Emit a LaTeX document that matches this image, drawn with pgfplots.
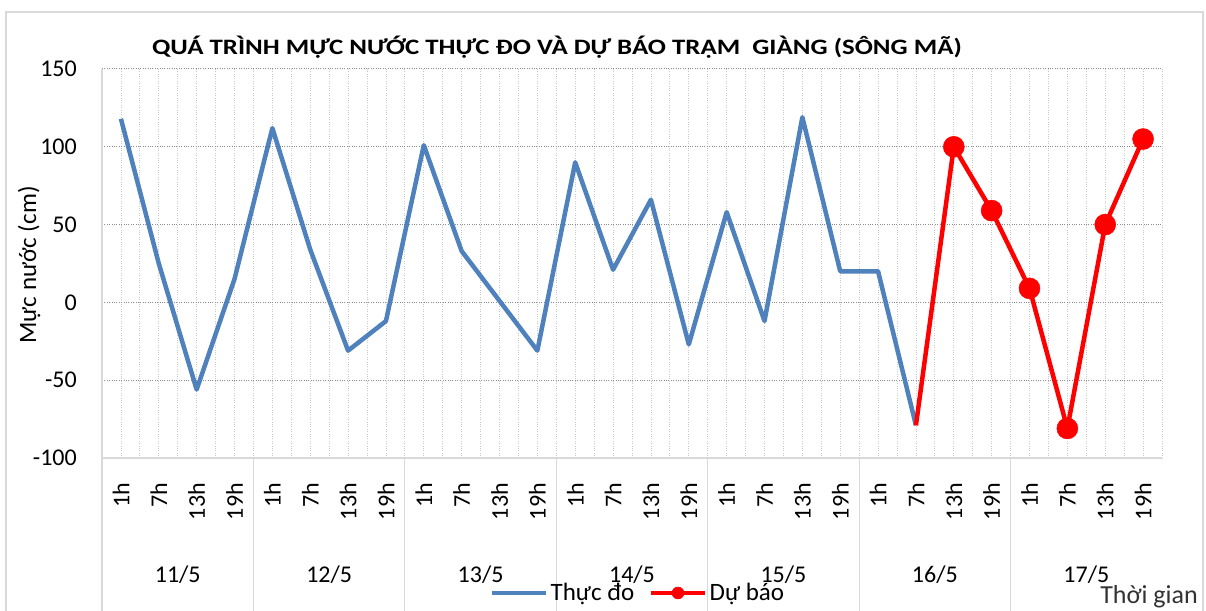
\documentclass[border=0pt]{standalone}
\usepackage{pgfplots}
\pgfplotsset{compat=1.18}
\usepackage{fontspec}
\setmainfont{Carlito}
\newfontfamily\titlefont[FakeStretch=1.22]{Carlito}
\definecolor{blueS}{HTML}{4F81BD}
\definecolor{redS}{HTML}{FF0000}
\definecolor{gridH}{HTML}{8C8C8C}
\definecolor{gridV}{HTML}{C8C8C8}
\definecolor{frameC}{HTML}{D9D9D9}
\newcommand{\fs}{\fontsize{24}{28}\selectfont}
\newcommand{\fl}{\fontsize{25}{29}\selectfont}
\begin{document}
\begin{tikzpicture}[x=1pt,y=1pt]
\useasboundingbox (0,0) rectangle (1206,610);
\fill[white] (0,0) rectangle (1206,610);
\draw[frameC, line width=1.5pt] (6,-10) rectangle (1203,598);
\node[font=\titlefont\bfseries\fontsize{22}{26}\selectfont] at (557,563) {QUÁ TRÌNH MỰC NƯỚC THỰC ĐO VÀ DỰ BÁO TRẠM \ GIÀNG (SÔNG MÃ)};
\node[font=\fl, rotate=90] at (29,345) {Mực nước (cm)};
\node[font=\fontsize{26}{30}\selectfont, text=black!80] at (1149,13) {Thời gian};
\begin{axis}[
  at={(102pt,152pt)}, anchor=south west, scale only axis,
  width=1060pt, height=389pt,
  xmin=-0.5, xmax=27.5, ymin=-100, ymax=150,
  ytick={-100,-50,...,150},
  /pgf/number format/assume math mode=true,
  xtick={0,...,27},
  xticklabels={1h,7h,13h,19h,1h,7h,13h,19h,1h,7h,13h,19h,1h,7h,13h,19h,1h,7h,13h,19h,1h,7h,13h,19h,1h,7h,13h,19h},
  minor xtick={-0.5,0.5,...,27.5},
  xmajorgrids, xminorgrids, ymajorgrids,
  major x grid style={draw=gridV, dotted, line width=0.8pt},
  minor x grid style={draw=gridV, dotted, line width=0.8pt},
  major y grid style={draw=gridH, dotted, line width=1pt},
  axis line style={draw=none},
  major tick length=0pt, minor tick length=0pt,
  tick style={draw=none},
  yticklabel style={font=\fs, inner sep=0pt, anchor=east, xshift=-25pt},
  xticklabel style={font=\fs, inner sep=0pt, rotate=90, anchor=east, xshift=-25pt},
  clip=false,
  legend columns=2,
  legend style={at={(0.366,-0.347)}, anchor=west, draw=none, fill=none, font=\fl,
    inner sep=0pt,
    nodes={inner sep=3pt},
    /tikz/every even column/.append style={column sep=12pt}},
  legend image code/.code={\draw[mark repeat=2,mark phase=2,#1,mark size=6pt,line width=3.5pt] plot coordinates {(0pt,0pt) (27pt,0pt) (54pt,0pt)};},
]
\addplot[blueS, line width=4.5pt, line join=round] coordinates {
(0,118) (1,25) (2,-56) (3,15) (4,112) (5,34) (6,-31) (7,-12)
(8,101) (9,33) (10,1) (11,-31) (12,90) (13,21) (14,66) (15,-27)
(16,58) (17,-12) (18,119) (19,20) (20,20) (21,-79)};
\addlegendentry{Thực đo}
\addplot[redS, line width=4.5pt, line join=round, forget plot] coordinates {
(21,-79) (22,100)};
\addplot[redS, line width=4.5pt, line join=round, mark=*, mark size=10.5pt,
  mark options={solid, fill=redS, draw=redS, line width=0.5pt}] coordinates {
(22,100) (23,59) (24,9) (25,-81) (26,50) (27,105)};
\addlegendentry{Dự báo}
\draw[frameC, line width=1.2pt] (axis cs:-0.5,150) -- (axis cs:-0.5,-100) -- (axis cs:27.5,-100);
\draw[frameC, line width=1.2pt] (axis cs:-0.5,-100) -- ++(0pt,-160pt);
\draw[frameC, line width=1.2pt] (axis cs:3.5,-100) -- ++(0pt,-160pt);
\draw[frameC, line width=1.2pt] (axis cs:7.5,-100) -- ++(0pt,-160pt);
\draw[frameC, line width=1.2pt] (axis cs:11.5,-100) -- ++(0pt,-160pt);
\draw[frameC, line width=1.2pt] (axis cs:15.5,-100) -- ++(0pt,-160pt);
\draw[frameC, line width=1.2pt] (axis cs:19.5,-100) -- ++(0pt,-160pt);
\draw[frameC, line width=1.2pt] (axis cs:23.5,-100) -- ++(0pt,-160pt);
\node[font=\fs, yshift=-117pt] at (axis cs:1.5,-100) {11/5};
\node[font=\fs, yshift=-117pt] at (axis cs:5.5,-100) {12/5};
\node[font=\fs, yshift=-117pt] at (axis cs:9.5,-100) {13/5};
\node[font=\fs, yshift=-117pt] at (axis cs:13.5,-100) {14/5};
\node[font=\fs, yshift=-117pt] at (axis cs:17.5,-100) {15/5};
\node[font=\fs, yshift=-117pt] at (axis cs:21.5,-100) {16/5};
\node[font=\fs, yshift=-117pt] at (axis cs:25.5,-100) {17/5};
\end{axis}
\end{tikzpicture}
\end{document}
